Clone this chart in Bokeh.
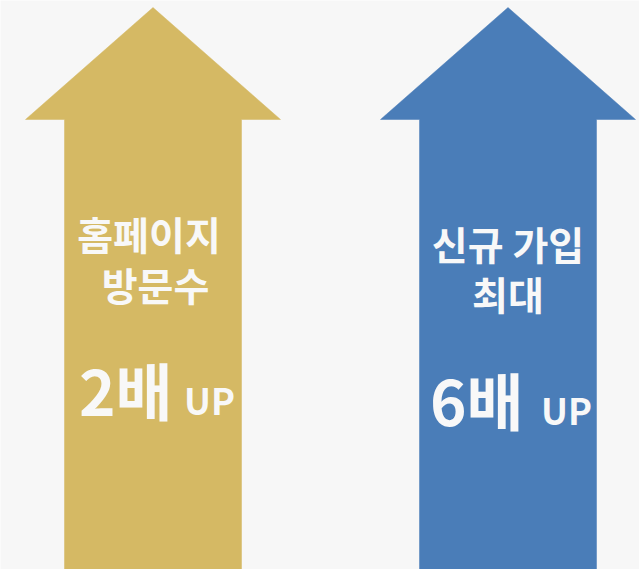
from bokeh.plotting import figure
from bokeh.models import Range1d, ColumnDataSource
from bokeh.core.properties import value
from bokeh.embed import file_html
from bokeh.resources import INLINE

# ---- data ----
line1 = ["홈페이지", "신규 가입"]
line2 = ["방문수", "최대"]
multipliers = [2, 6]
suffix = "배"
up_label = "UP"
colors = ["#D5B964", "#4A7DB8"]

# ---- geometry (pixel space) ----
centers = [152.5, 507.5]
tip_y = 7
head_y = 119
bottom_y = 580
head_half = 127.5
shaft_half = 88.5

W, H = 639, 569
p = figure(width=W, height=H, output_backend="svg", toolbar_location=None,
           x_range=Range1d(0, W), y_range=Range1d(H, 0),
           min_border=0, background_fill_color="#F7F7F7",
           border_fill_color="#F7F7F7")
p.axis.visible = False
p.grid.visible = False
p.outline_line_color = None

for cx, col in zip(centers, colors):
    xs = [cx, cx + head_half, cx + shaft_half, cx + shaft_half,
          cx - shaft_half, cx - shaft_half, cx - head_half]
    ys = [tip_y, head_y, head_y, bottom_y, bottom_y, head_y, head_y]
    p.patch(xs, ys, fill_color=col, line_color=col, line_width=0.5)

font = value("Noto Sans CJK KR")
txt_col = "#F8F8F8"

# label lines
l1_y = [232, 242]
l2_y = [283, 292]
l1_dx = [-4, 0]
l2_dx = [2.5, 0]
src1 = ColumnDataSource(dict(x=[c + d for c, d in zip(centers, l1_dx)], y=l1_y, t=line1))
src2 = ColumnDataSource(dict(x=[c + d for c, d in zip(centers, l2_dx)], y=l2_y, t=line2))
for s in (src1, src2):
    p.text(x="x", y="y", text="t", source=s, text_font=font, text_font_style="bold",
           text_font_size="39px", text_color=txt_col, text_align="center",
           text_baseline="middle")

# multiplier
big = [f"{m}{suffix}" for m in multipliers]
big_x = [centers[0] - 74, centers[1] - 78]
big_y = [388, 398]
src3 = ColumnDataSource(dict(x=big_x, y=big_y, t=big))
p.text(x="x", y="y", text="t", source=src3, text_font=font, text_font_style="bold",
       text_font_size="62px", text_color=txt_col, text_align="left",
       text_baseline="middle")
up_x = [centers[0] + 31, centers[1] + 33]
up_y = [398, 408]
src4 = ColumnDataSource(dict(x=up_x, y=up_y, t=[up_label] * 2))
p.text(x="x", y="y", text="t", source=src4, text_font=font, text_font_style="bold",
       text_font_size="36px", text_color=txt_col, text_align="left",
       text_baseline="middle")

html = file_html(p, INLINE)
open("out.html", "w").write(html)
